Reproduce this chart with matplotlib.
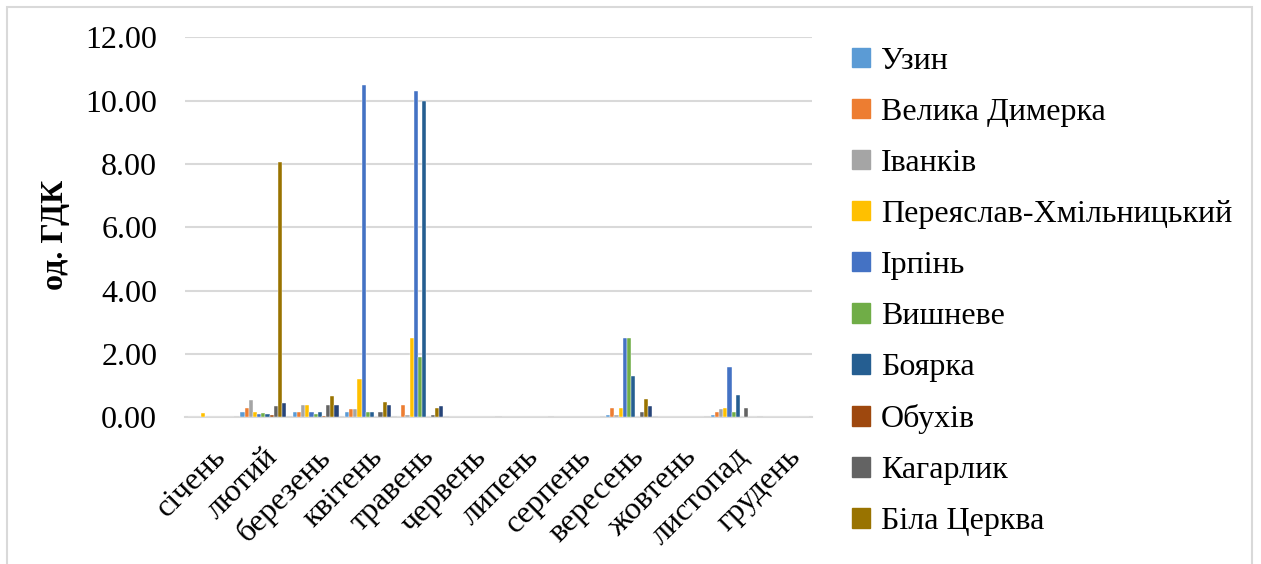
import numpy as np
import matplotlib
matplotlib.use("Agg")
import matplotlib.pyplot as plt
from matplotlib.patches import Rectangle

plt.rcParams['font.family'] = ['Liberation Serif', 'DejaVu Serif']

months = ["січень", "лютий", "березень", "квітень", "травень", "червень",
          "липень", "серпень", "вересень", "жовтень", "листопад", "грудень"]

stations = ["Узин", "Велика Димерка", "Іванків", "Переяслав-Хмільницький",
            "Ірпінь", "Вишневе", "Боярка", "Обухів", "Кагарлик", "Біла Церква"]

# monthly values, од. ГДК
uzyn        = [0, 0.18, 0.18, 0.18, 0,    0, 0, 0, 0.07, 0, 0.07, 0]
vel_dymerka = [0, 0.29, 0.18, 0.27, 0.38, 0, 0, 0, 0.28, 0, 0.18, 0]
ivankiv     = [0, 0.55, 0.38, 0.25, 0.08, 0, 0, 0, 0.07, 0, 0.27, 0]
pereiaslav  = [0.15, 0.17, 0.38, 1.20, 2.50, 0, 0, 0, 0.28, 0, 0.28, 0]
irpin       = [0, 0.11, 0.18, 10.50, 10.30, 0, 0, 0, 2.50, 0, 1.60, 0]
vyshneve    = [0, 0.14, 0.12, 0.18, 1.90, 0, 0, 0, 2.50, 0, 0.18, 0]
boiarka     = [0, 0.11, 0.18, 0.18, 10.00, 0, 0, 0, 1.30, 0, 0.70, 0]
obukhiv     = [0, 0.07, 0.04, 0.02, 0,    0, 0, 0, 0,    0, 0,    0]
kaharlyk    = [0, 0.35, 0.38, 0.18, 0.08, 0, 0, 0, 0.18, 0, 0.28, 0]
bila_tserkva = [0, 8.05, 0.68, 0.47, 0.28, 0, 0, 0, 0.58, 0, 0,   0]
extra       = [0, 0.45, 0.38, 0.38, 0.37, 0, 0, 0, 0.37, 0, 0,    0]

series = [uzyn, vel_dymerka, ivankiv, pereiaslav, irpin, vyshneve,
          boiarka, obukhiv, kaharlyk, bila_tserkva, extra]
colors = ['#5B9BD5', '#ED7D31', '#A5A5A5', '#FFC000', '#4472C4', '#70AD47',
          '#255E91', '#9E480E', '#636363', '#997300', '#264478']

W, H = 1261, 564
fig = plt.figure(figsize=(W / 100, H / 100), dpi=100)
ax = fig.add_axes([185 / W, 1 - 417.3 / H, 627 / W, 380 / H])

n = len(series)
bw = 1 / (n + 1.5)
x = np.arange(len(months))
for i, (vals, c) in enumerate(zip(series, colors)):
    offs = -0.5 + 0.75 * bw + (i + 0.5) * bw
    ax.bar(x + offs, vals, width=bw, color=c, edgecolor='white', linewidth=0.3, zorder=3)

ax.set_xlim(-0.5, len(months) - 0.5)
ax.set_ylim(0, 12)
ax.set_yticks(np.arange(0, 12.1, 2))
ax.set_yticklabels([f"{v:.2f}" for v in np.arange(0, 12.1, 2)])
ax.yaxis.grid(True, color='#D9D9D9', linewidth=1.5, zorder=0)
ax.set_axisbelow(True)
for s in ['top', 'right', 'left']:
    ax.spines[s].set_visible(False)
ax.spines['bottom'].set_color('#D9D9D9')
ax.spines['bottom'].set_linewidth(1.5)
ax.tick_params(axis='y', length=0, pad=20, labelsize=23)
ax.tick_params(axis='x', length=0, pad=18, labelsize=23)
ax.set_xticks(x)
ax.set_xticklabels(months, rotation=45, ha='right', va='top', rotation_mode='anchor')

ax.set_ylabel("од. ГДК", fontsize=23, fontweight='bold')
ax.yaxis.set_label_coords(-0.183, 0.48)

handles = [Rectangle((0, 0), 1, 1, color=c) for c in colors[:10]]
fig.legend(handles, stations, loc='upper left', bbox_to_anchor=(852 / W, 1 - 47 / H),
           frameon=False, fontsize=23, handlelength=0.55, handleheight=0.55,
           handletextpad=0.35, labelspacing=0.69, borderpad=0, borderaxespad=0)

# chart frame
fig.patches.append(Rectangle((7 / W, -0.05), 1245 / W, 1.05 - 7 / H, transform=fig.transFigure,
                             fill=False, edgecolor='#D9D9D9', linewidth=1.5))

fig.savefig("out.png", dpi=100)
